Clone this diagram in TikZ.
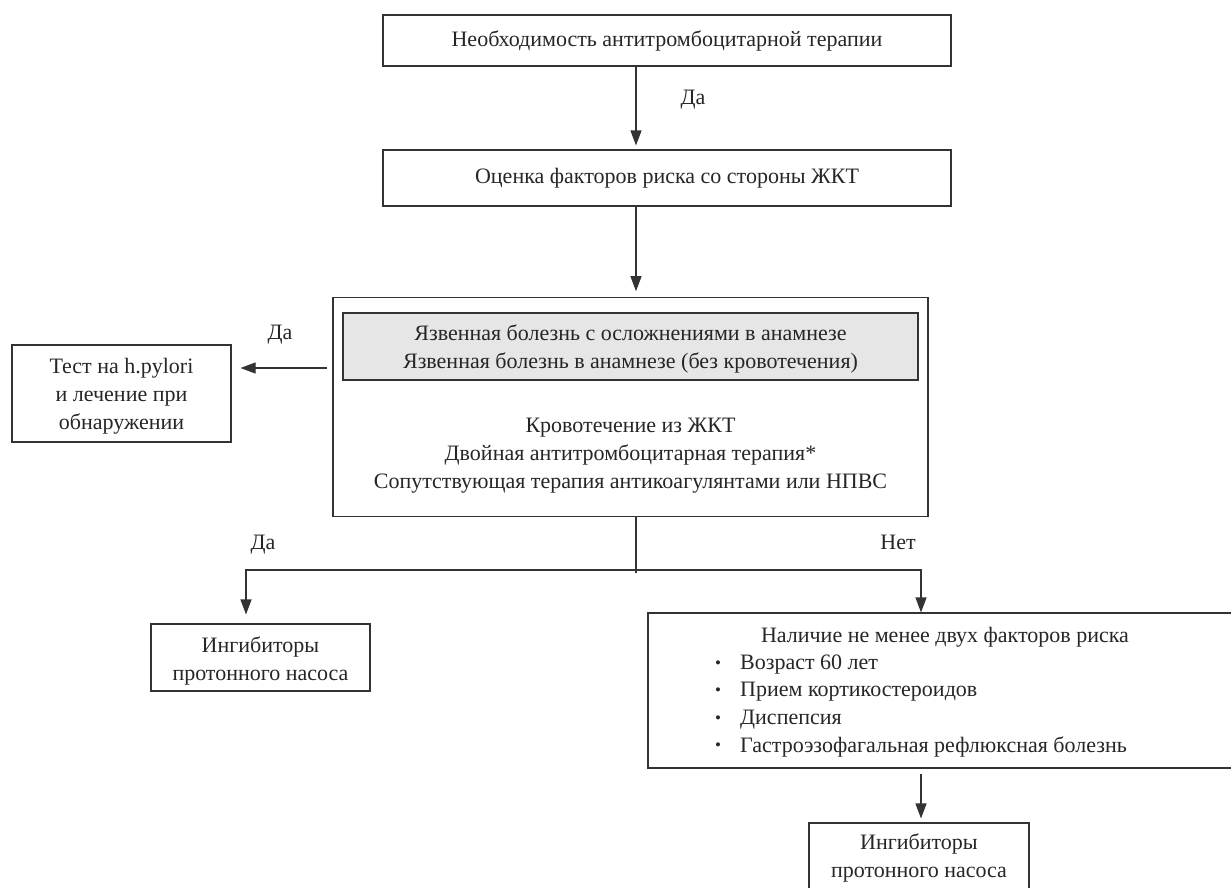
\documentclass[tikz,border=0pt]{standalone}
\usepackage{fontspec}
\setmainfont{Liberation Serif}
\usetikzlibrary{arrows.meta,calc}
\definecolor{ln}{HTML}{333333}
\definecolor{grayfill}{HTML}{E6E6E6}
\newcommand\fs{\fontsize{22}{28}\selectfont}
\tikzset{
  box/.style={draw=ln, line width=1.1pt, inner sep=0pt, align=center, font=\fs, text=black!85},
  txt/.style={inner sep=0pt, align=center, font=\fs, text=black!85},
  conn/.style={draw=ln, line width=1.1pt},
  arr/.style={conn, -{Triangle[length=15pt,width=11pt]}},
}
\begin{document}
\begin{tikzpicture}[x=1pt,y=-1pt]
\useasboundingbox (0,0) rectangle (1231,887);
\clip (0,0) rectangle (1231,887);
\fill[white] (0,0) rectangle (1231,887);
% column coordinates
\coordinate (cx) at (636,0);
\coordinate (lx) at (246,0);
\coordinate (rx) at (921,0);
\coordinate (ly) at (0,368);
\coordinate (j) at (636,570);
\coordinate (jend) at (636,573);
% boxes
\node[box, minimum width=568pt, minimum height=51pt] (top) at (667,40.5) {Необходимость антитромбоцитарной терапии};
\node[box, minimum width=568pt, minimum height=56pt] (risk) at (667,178) {Оценка факторов риска со стороны ЖКТ};
\node[box, minimum width=595pt, minimum height=218.5pt] (big) at (630.5,407) {};
\node[box, fill=grayfill, minimum width=575pt, minimum height=67pt] (gray) at (630.5,346.5) {};
\node[txt] (graytxt) at (630.5,349) {Язвенная болезнь с осложнениями в анамнезе\\Язвенная болезнь в анамнезе (без кровотечения)};
\node[txt] (bigtxt) at (630.5,456) {Кровотечение из ЖКТ\\Двойная антитромбоцитарная терапия*\\Сопутствующая терапия антикоагулянтами или НПВС};
\node[box, minimum width=219pt, minimum height=97pt] (left) at (121.5,393.5) {};
\node[txt] (lefttxt) at (121.5,396) {Тест на h.pylori\\и лечение при\\обнаружении};
\node[box, minimum width=219pt, minimum height=67pt] (lb) at (260.5,657.5) {};
\node[txt] (lbtxt) at (260.5,661) {Ингибиторы\\протонного насоса};
\node[box, minimum width=597pt, minimum height=155pt] (rb) at (946.5,690.5) {};
\node[txt] (rbt) at (945,637) {Наличие не менее двух факторов риска};
\node[txt, anchor=west] (i1) at (740,665) {Возраст 60 лет};
\node[txt, anchor=west] (i2) at (740,692) {Прием кортикостероидов};
\node[txt, anchor=west] (i3) at (740,720) {Диспепсия};
\node[txt, anchor=west] (i4) at (740,747) {Гастроэзофагальная рефлюксная болезнь};
\foreach \y/\n in {665/b1,692/b2,720/b3,747/b4}
  \node[txt, font=\fontsize{17}{17}\selectfont] (\n) at (718,\y) {•};
\node[box, minimum width=220pt, minimum height=82pt] (bb) at (919,864) {};
\node[txt] (bbtxt) at (919,858) {Ингибиторы\\протонного насоса};
% labels
\node[txt] (l1) at (693,100) {Да};
\node[txt] (l2) at (280,335) {Да};
\node[txt] (l3) at (263,545) {Да};
\node[txt] (l4) at (898,542) {Нет};
% connectors
\draw[arr, shorten >=4pt] (cx |- top.south) -- (cx |- risk.north);
\draw[arr, shorten >=6pt] (cx |- risk.south) -- (cx |- big.north);
\draw[arr, shorten <=5pt, shorten >=9pt] (big.west |- ly) -- (left.east |- ly);
\draw[conn] (cx |- big.south) -- (jend);
\draw[arr, shorten >=9pt] (j) -| (lx |- lb.north);
\draw[arr] (j) -| (rx |- rb.north);
\draw[arr, shorten <=5pt, shorten >=4pt] (rx |- rb.south) -- (rx |- bb.north);
\end{tikzpicture}
\end{document}
